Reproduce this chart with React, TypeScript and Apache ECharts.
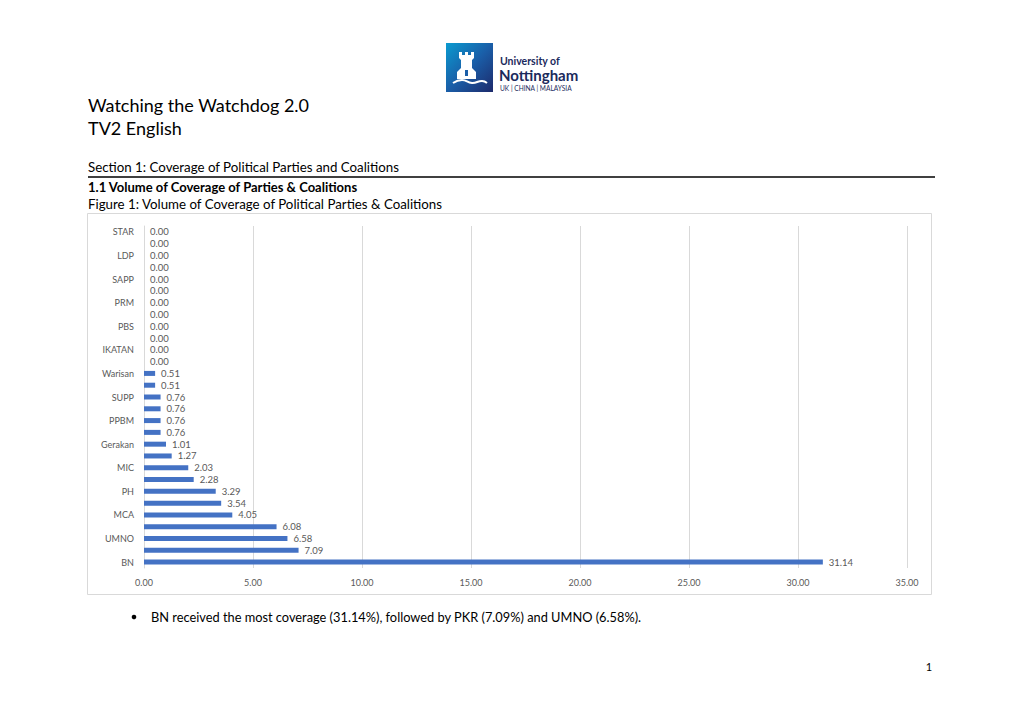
import React, { useEffect, useRef } from "react";
import * as echarts from "echarts";

const categories = [
  "STAR", "PSM", "LDP", "PRS", "SAPP", "PBB", "PRM", "PBRS", "PBS", "UPKO",
  "IKATAN", "MyPPP", "Warisan", "Amanah", "SUPP", "PCS", "PPBM", "PPP",
  "Gerakan", "Others", "MIC", "GS", "PH", "DAP", "MCA", "PAS", "UMNO", "PKR", "BN",
];
const values = [
  0, 0, 0, 0, 0, 0, 0, 0, 0, 0, 0, 0, 0.51, 0.51, 0.76, 0.76, 0.76, 0.76,
  1.01, 1.27, 2.03, 2.28, 3.29, 3.54, 4.05, 6.08, 6.58, 7.09, 31.14,
];
const xTicks = [0, 5, 10, 15, 20, 25, 30, 35];

const FONT = "Lato, 'Noto Sans', sans-serif";

export default function App() {
  const ref = useRef<HTMLDivElement>(null);
  useEffect(() => {
    if (!ref.current) return;
    const chart = echarts.init(ref.current, null, { renderer: "svg" });
    const navy = "#1b2a5c";
    chart.setOption({
      animation: false,
      backgroundColor: "#ffffff",
      textStyle: { fontFamily: FONT },
      grid: { left: 144, right: 113, top: 226, height: 342, containLabel: false },
      xAxis: {
        type: "value",
        min: xTicks[0],
        max: xTicks[xTicks.length - 1],
        interval: 5,
        axisLine: { show: false },
        axisTick: { show: false },
        splitLine: { lineStyle: { color: "#d9d9d9", width: 1 } },
        axisLabel: {
          color: "#595959",
          fontSize: 9,
          fontFamily: FONT,
          margin: 10,
          formatter: (v: number) => v.toFixed(2),
        },
      },
      yAxis: {
        type: "category",
        data: categories,
        inverse: true,
        axisLine: { lineStyle: { color: "#d9d9d9" } },
        axisTick: { show: false },
        axisLabel: {
          color: "#595959",
          fontSize: 9,
          fontFamily: FONT,
          interval: 1,
          margin: 10,
        },
      },
      series: [
        {
          type: "bar",
          data: values,
          barWidth: 5,
          itemStyle: { color: "#4472c4" },
          label: {
            show: true,
            position: "right",
            distance: 6,
            color: "#595959",
            fontSize: 9.5,
            fontFamily: FONT,
            formatter: (p: any) => Number(p.value).toFixed(2),
          },
        },
      ],
      graphic: [
        {
          type: "rect",
          shape: { x: 87.5, y: 213.5, width: 844, height: 381 },
          style: { fill: "none", stroke: "#d9d9d9", lineWidth: 1 },
          silent: true,
        },
        {
          type: "rect",
          shape: { x: 446, y: 43, width: 47, height: 49 },
          style: {
            fill: new echarts.graphic.LinearGradient(0, 0, 1, 1, [
              { offset: 0, color: "#0a9bd0" },
              { offset: 0.5, color: "#1a5ea8" },
              { offset: 1, color: "#1d2a6b" },
            ]),
          },
        },
        {
          type: "polygon",
          shape: {
            points: [
              [459, 52], [462, 52], [462, 55], [465, 55], [465, 52], [468, 52], [468, 55],
              [471, 55], [471, 52], [474, 52], [474, 58], [472, 60], [472, 68], [476, 72],
              [476, 79], [457, 79], [457, 72], [461, 68], [461, 60], [459, 58],
            ],
          },
          style: { fill: "#ffffff" },
        },
        {
          type: "rect",
          shape: { x: 465, y: 70, width: 3, height: 6 },
          style: { fill: "#1a5ea8" },
        },
        {
          type: "polyline",
          shape: { points: [[453, 83], [462, 80], [472, 83], [482, 81], [487, 83]], smooth: 0.5 },
          style: { stroke: "#ffffff", lineWidth: 2, fill: "none" },
        },
        {
          type: "text",
          style: { text: "University of", x: 500, y: 61, fill: navy, font: `bold 10.5px ${FONT}`, textVerticalAlign: "middle" },
        },
        {
          type: "text",
          style: { text: "Nottingham", x: 499, y: 75, fill: navy, font: `bold 15px ${FONT}`, textVerticalAlign: "middle" },
        },
        {
          type: "text",
          style: { text: "UK | CHINA | MALAYSIA", x: 500, y: 88, fill: navy, font: `6.6px ${FONT}`, textVerticalAlign: "middle" },
        },
        {
          type: "text",
          style: { text: "Watching the Watchdog 2.0", x: 88, y: 105, fill: "#000000", font: `18px ${FONT}`, textVerticalAlign: "middle" },
        },
        {
          type: "text",
          style: { text: "TV2 English", x: 88, y: 128, fill: "#000000", font: `18px ${FONT}`, textVerticalAlign: "middle" },
        },
        {
          type: "text",
          style: { text: "Section 1: Coverage of Political Parties and Coalitions", x: 88, y: 167, fill: "#000000", font: `13.3px ${FONT}`, textVerticalAlign: "middle" },
        },
        {
          type: "line",
          shape: { x1: 88, y1: 177, x2: 935, y2: 177 },
          style: { stroke: "#000000", lineWidth: 1.5 },
        },
        {
          type: "text",
          style: { text: "1.1 Volume of Coverage of Parties & Coalitions", x: 88, y: 187, fill: "#000000", font: `bold 13px ${FONT}`, textVerticalAlign: "middle" },
        },
        {
          type: "text",
          style: { text: "Figure 1: Volume of Coverage of Political Parties & Coalitions", x: 88, y: 204, fill: "#000000", font: `13.3px ${FONT}`, textVerticalAlign: "middle" },
        },
        {
          type: "circle",
          shape: { cx: 134, cy: 617, r: 2.3 },
          style: { fill: "#000000" },
        },
        {
          type: "text",
          style: {
            text: "BN received the most coverage (31.14%), followed by PKR (7.09%) and UMNO (6.58%).",
            x: 151, y: 617, fill: "#000000", font: `12.8px ${FONT}`, textVerticalAlign: "middle",
          },
        },
        {
          type: "text",
          style: { text: "1", x: 929, y: 666, fill: "#000000", font: `11px ${FONT}`, textAlign: "center", textVerticalAlign: "middle" },
        },
      ],
    });
    return () => chart.dispose();
  }, []);
  return (
    <div
      ref={ref}
      style={{ position: "absolute", left: 0, top: 0, width: 1020, height: 721 }}
    />
  );
}
